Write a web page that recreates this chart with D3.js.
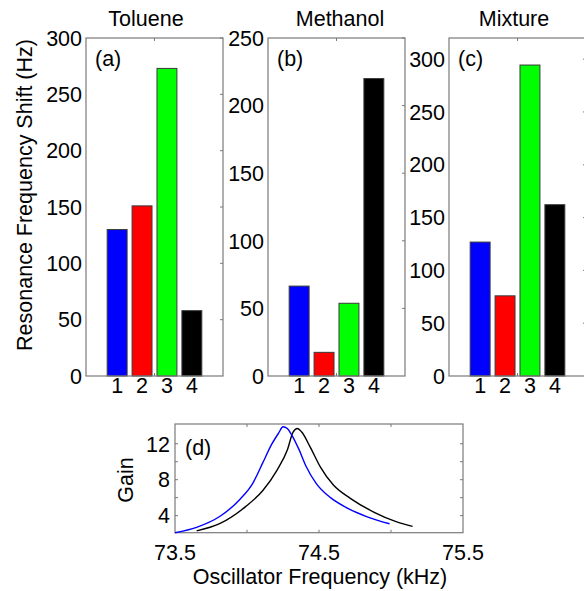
<!DOCTYPE html>
<html>
<head>
<meta charset="utf-8">
<script src="https://cdn.jsdelivr.net/npm/d3@7"></script>
<style>
  body { margin: 0; background: #fff; }
  text { font-family: "Liberation Sans", Arial, sans-serif; fill: #000; }
</style>
</head>
<body>
<svg id="chart" width="584" height="591"></svg>
<script>
// ---- data ----
const categories = [1, 2, 3, 4];
const barColors = ['#0000ff', '#ff0000', '#00ff00', '#000000'];
const panelTitles = ['Toluene', 'Methanol', 'Mixture'];
const panelTags = ['(a)', '(b)', '(c)'];
const toluene = [130, 151, 273, 58];
const methanol = [66.5, 17.5, 53.8, 220];
const mixture = [126.8, 75.9, 294.4, 162.2];
const yMax = [300, 250, 320];
const yTicks = [
  [0, 50, 100, 150, 200, 250, 300],
  [0, 50, 100, 150, 200, 250],
  [0, 50, 100, 150, 200, 250, 300]
];

// resonance curves, panel (d)
const blueFreq = [73.50, 73.65, 73.81, 73.95, 74.04, 74.11, 74.17, 74.22, 74.25, 74.28, 74.31, 74.36, 74.41, 74.48, 74.58, 74.69, 74.83, 74.99];
const blueGain = [2.1, 2.7, 3.9, 5.8, 7.6, 9.9, 11.9, 13.2, 13.9, 13.7, 13.0, 11.4, 9.5, 7.6, 6.0, 4.9, 3.9, 3.1];
const blackFreq = [73.65, 73.81, 73.99, 74.11, 74.21, 74.28, 74.32, 74.35, 74.38, 74.44, 74.51, 74.60, 74.72, 74.88, 75.04, 75.15];
const blackGain = [2.3, 3.1, 5.0, 6.8, 9.1, 11.3, 13.3, 13.7, 13.3, 11.6, 9.4, 7.4, 5.9, 4.4, 3.3, 2.8];
const freqTicks = [73.5, 74, 74.5, 75, 75.5];
const freqLabels = [73.5, 74.5, 75.5];
const gainTicks = [4, 6, 8, 10, 12];
const gainLabels = [4, 8, 12];

// ---- layout ----
const FONT = 21.5;
const AXIS_COLOR = '#7a7a7a';
const TICK = 3;
const panelLeft = [86, 268, 449];
const panelW = 137, panelTop = 38, panelBottom = 376;
const titleX = [146, 340, 514];

const svg = d3.select('#chart');
const series = [toluene, methanol, mixture];

series.forEach((vals, i) => {
  const x0 = panelLeft[i];
  const x = d3.scaleLinear().domain([-0.25, 5.25]).range([x0, x0 + panelW]);
  const y = d3.scaleLinear().domain([0, yMax[i]]).range([panelBottom, panelTop]);
  const g = svg.append('g');

  g.selectAll('rect.bar').data(vals).enter().append('rect')
    .attr('class', 'bar')
    .attr('x', (d, k) => x(categories[k] - 0.4))
    .attr('width', (d, k) => x(categories[k] + 0.4) - x(categories[k] - 0.4))
    .attr('y', d => y(d))
    .attr('height', d => y(0) - y(d))
    .attr('fill', (d, k) => barColors[k])
    .attr('stroke', '#3a3a3a')
    .attr('stroke-width', 1);

  // box
  g.append('rect')
    .attr('x', x0).attr('y', panelTop)
    .attr('width', panelW).attr('height', panelBottom - panelTop)
    .attr('fill', 'none').attr('stroke', AXIS_COLOR).attr('stroke-width', 1.2);

  // inward ticks on the right side
  g.selectAll('line.yt').data(yTicks[i].slice(1)).enter().append('line')
    .attr('x1', x0 + panelW).attr('x2', x0 + panelW - TICK)
    .attr('y1', d => y(d)).attr('y2', d => y(d))
    .attr('stroke', AXIS_COLOR);
  // single x tick at centre, top and bottom
  [[panelTop, panelTop + TICK], [panelBottom, panelBottom - TICK]].forEach(p => {
    g.append('line').attr('x1', x(2.5)).attr('x2', x(2.5))
      .attr('y1', p[0]).attr('y2', p[1]).attr('stroke', AXIS_COLOR);
  });

  g.selectAll('text.yl').data(yTicks[i]).enter().append('text')
    .attr('x', x0 - 4).attr('y', d => y(d)).attr('dy', '0.36em')
    .attr('text-anchor', 'end').style('font-size', FONT + 'px')
    .text(d => d);

  g.selectAll('text.xl').data(categories).enter().append('text')
    .attr('x', d => x(d)).attr('y', 393)
    .attr('text-anchor', 'middle').style('font-size', FONT + 'px')
    .text(d => d);

  g.append('text').attr('x', titleX[i]).attr('y', 26)
    .attr('text-anchor', 'middle').style('font-size', FONT + 'px')
    .text(panelTitles[i]);

  g.append('text').attr('x', x0 + 9).attr('y', 66)
    .style('font-size', FONT + 'px').text(panelTags[i]);
});

svg.append('text')
  .attr('transform', 'translate(31.5,195) rotate(-90)')
  .attr('text-anchor', 'middle').style('font-size', FONT + 'px')
  .text('Resonance Frequency Shift (Hz)');

// ---- panel (d) ----
const dx = d3.scaleLinear().domain([73.5, 75.5]).range([175, 463]);
const dy = d3.scaleLinear().domain([2.1, 14.2]).range([532.7, 424]);
const gd = svg.append('g');

gd.append('rect')
  .attr('x', dx(73.5)).attr('y', dy(14.2))
  .attr('width', dx(75.5) - dx(73.5)).attr('height', dy(2.1) - dy(14.2))
  .attr('fill', 'none').attr('stroke', AXIS_COLOR).attr('stroke-width', 1.2);

freqTicks.slice(1, -1).forEach(f => {
  gd.append('line').attr('x1', dx(f)).attr('x2', dx(f))
    .attr('y1', dy(14.2)).attr('y2', dy(14.2) + TICK).attr('stroke', AXIS_COLOR);
  gd.append('line').attr('x1', dx(f)).attr('x2', dx(f))
    .attr('y1', dy(2.1)).attr('y2', dy(2.1) - TICK).attr('stroke', AXIS_COLOR);
});
gainTicks.forEach(v => {
  gd.append('line').attr('x1', dx(73.5)).attr('x2', dx(73.5) + TICK)
    .attr('y1', dy(v)).attr('y2', dy(v)).attr('stroke', AXIS_COLOR);
  gd.append('line').attr('x1', dx(75.5)).attr('x2', dx(75.5) - TICK)
    .attr('y1', dy(v)).attr('y2', dy(v)).attr('stroke', AXIS_COLOR);
});

const line = d3.line().curve(d3.curveMonotoneX);
gd.append('path')
  .attr('d', line(blackFreq.map((f, k) => [dx(f), dy(blackGain[k])])))
  .attr('fill', 'none').attr('stroke', '#000').attr('stroke-width', 1.4);
gd.append('path')
  .attr('d', line(blueFreq.map((f, k) => [dx(f), dy(blueGain[k])])))
  .attr('fill', 'none').attr('stroke', '#0000ff').attr('stroke-width', 1.4);

gd.selectAll('text.fl').data(freqLabels).enter().append('text')
  .attr('x', d => dx(d)).attr('y', 559.5)
  .attr('text-anchor', 'middle').style('font-size', FONT + 'px')
  .text(d => d3.format('.1f')(d));
gd.selectAll('text.gl').data(gainLabels).enter().append('text')
  .attr('x', 170).attr('y', d => dy(d)).attr('dy', '0.36em')
  .attr('text-anchor', 'end').style('font-size', FONT + 'px')
  .text(d => d);

gd.append('text').attr('x', 185).attr('y', 455)
  .style('font-size', FONT + 'px').text('(d)');
gd.append('text')
  .attr('transform', 'translate(133,480) rotate(-90)')
  .attr('text-anchor', 'middle').style('font-size', FONT + 'px')
  .text('Gain');
gd.append('text').attr('x', 320).attr('y', 584)
  .attr('text-anchor', 'middle').style('font-size', FONT + 'px')
  .text('Oscillator Frequency (kHz)');
</script>
</body>
</html>
